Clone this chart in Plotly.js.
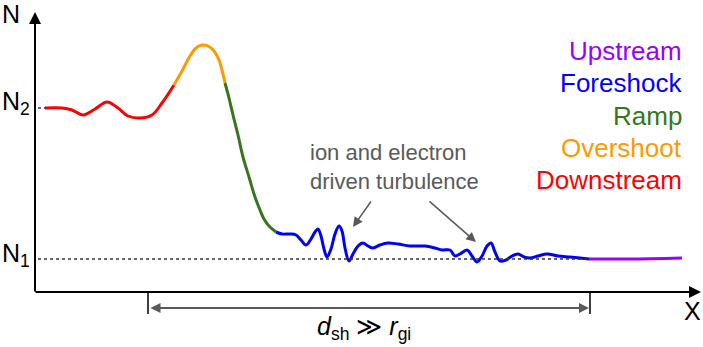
<!DOCTYPE html>
<html>
<head>
<meta charset="utf-8">
<script src="https://cdn.plot.ly/plotly-3.0.1.min.js"></script>
<style>
  html, body { margin: 0; padding: 0; background: #fff; }
  #chart { width: 703px; height: 347px; }
</style>
</head>
<body>
<div id="chart"></div>
<script>
// shock profile, position along x and density N
const downX = [45, 62, 72, 83, 95, 107, 118, 128, 140, 152, 162, 174];
const downN = [239, 239, 237, 232, 238, 245, 239, 231, 229, 232, 244, 262];

const overX = [174, 182, 190, 196, 202, 208, 214, 219, 222, 225];
const overN = [262, 276, 291, 299, 302, 301, 296, 287, 277, 264];

const rampX = [225, 229, 233, 238, 243, 249, 255, 260, 264, 269, 276];
const rampN = [264, 249, 232, 212, 190, 170, 150, 137, 128, 121, 115];

const foreX = [276, 282, 290, 296, 301, 306, 311, 315, 318, 321, 324, 327, 331, 335, 339, 342, 345, 349,
               353, 358, 363, 368, 373, 380, 388, 398, 410, 425, 435, 442, 450, 455, 460, 467, 472, 477,
               482, 487, 491, 495, 500, 506, 512, 518, 524, 530, 538, 547, 558, 570, 580, 589];
const foreN = [115, 113, 113, 112, 107, 102, 108, 115, 118, 111, 98, 90, 98, 113, 121, 116, 99, 86,
               93, 101, 104, 101, 99, 102, 104, 103, 101, 101, 99, 97, 97, 91, 93, 97, 91, 85,
               91, 101, 104, 95, 86, 87, 91, 93, 90, 89, 91, 93, 91, 90, 89, 88];

const upX = [589, 630, 682];
const upN = [88, 88, 89];

const N1 = 88;
const N2 = 239;
const xAxisN = 55;
const dshStart = 148;
const dshEnd = 590;

const regionNames = ['Upstream', 'Foreshock', 'Ramp', 'Overshoot', 'Downstream'];
const regionColors = ['#9900ff', '#0000ff', '#38761d', '#ff9900', '#ff0000'];

const FONT = 'Liberation Sans, Arial, sans-serif';

const segs = [
  [downX, downN, regionColors[4]],
  [overX, overN, regionColors[3]],
  [rampX, rampN, regionColors[2]],
  [foreX, foreN, regionColors[1]],
  [upX, upN, regionColors[0]]
];

const traces = segs.map(s => ({
  x: s[0],
  y: s[1],
  mode: 'lines',
  type: 'scatter',
  line: { color: s[2], width: 3, shape: 'spline', smoothing: 1 },
  hoverinfo: 'skip',
  showlegend: false
}));

const annotations = [];

// axes with arrow heads
annotations.push({ x: 35, y: 335, ax: 35, ay: xAxisN - 1, xref: 'x', yref: 'y', axref: 'x', ayref: 'y',
  showarrow: true, arrowhead: 2, arrowsize: 1.2, arrowwidth: 2, arrowcolor: '#000', text: '' });
annotations.push({ x: 701, y: xAxisN, ax: 34, ay: xAxisN, xref: 'x', yref: 'y', axref: 'x', ayref: 'y',
  showarrow: true, arrowhead: 2, arrowsize: 1.2, arrowwidth: 2, arrowcolor: '#000', text: '' });

// d_sh double arrow
annotations.push({ x: dshEnd - 1, y: 39, ax: dshStart + 1, ay: 39, xref: 'x', yref: 'y', axref: 'x', ayref: 'y',
  showarrow: true, arrowhead: 2, startarrowhead: 2, arrowside: 'end+start', arrowsize: 1, arrowwidth: 2,
  arrowcolor: '#595959', text: '' });

// turbulence arrows
annotations.push({ x: 353, y: 120, ax: 372, ay: 147, xref: 'x', yref: 'y', axref: 'x', ayref: 'y',
  showarrow: true, arrowhead: 2, arrowsize: 1.3, arrowwidth: 1.5, arrowcolor: '#595959', text: '' });
annotations.push({ x: 476, y: 105, ax: 428, ay: 147, xref: 'x', yref: 'y', axref: 'x', ayref: 'y',
  showarrow: true, arrowhead: 2, arrowsize: 1.3, arrowwidth: 1.5, arrowcolor: '#595959', text: '' });

annotations.push({ x: 308, y: 180, xref: 'x', yref: 'y', xanchor: 'left', yanchor: 'middle', align: 'left',
  showarrow: false, text: 'ion and electron<br>driven turbulence',
  font: { family: FONT, size: 22, color: '#595959' } });

// region labels
regionNames.forEach((name, i) => {
  annotations.push({ x: 684, y: 296 - i * 32.3, xref: 'x', yref: 'y', xanchor: 'right', yanchor: 'middle',
    showarrow: false, text: name, font: { family: FONT, size: 26, color: regionColors[i] } });
});

// axis labels
annotations.push({ x: 0, y: 333, xref: 'x', yref: 'y', xanchor: 'left', yanchor: 'middle', showarrow: false,
  text: 'N', font: { family: FONT, size: 25, color: '#000' } });
annotations.push({ x: 0, y: 244, xref: 'x', yref: 'y', xanchor: 'left', yanchor: 'middle', showarrow: false,
  text: 'N<sub>2</sub>', font: { family: FONT, size: 25, color: '#000' } });
annotations.push({ x: 0, y: 92, xref: 'x', yref: 'y', xanchor: 'left', yanchor: 'middle', showarrow: false,
  text: 'N<sub>1</sub>', font: { family: FONT, size: 25, color: '#000' } });
annotations.push({ x: 703, y: 36, xref: 'x', yref: 'y', xanchor: 'right', yanchor: 'middle', showarrow: false,
  text: 'X', font: { family: FONT, size: 25, color: '#000' } });
annotations.push({ x: 364, y: 19, xref: 'x', yref: 'y', xanchor: 'center', yanchor: 'middle', showarrow: false,
  text: '<i>d</i><sub>sh</sub> ≫ <i>r</i><sub>gi</sub>', font: { family: FONT, size: 25, color: '#000' } });

const shapes = [
  { type: 'line', xref: 'x', yref: 'y', x0: 38, x1: dshEnd, y0: N1, y1: N1,
    line: { color: '#333', width: 1.5, dash: 'dot' } },
  { type: 'line', xref: 'x', yref: 'y', x0: 38, x1: 46, y0: N2, y1: N2,
    line: { color: '#333', width: 1.5, dash: 'dot' } },
  { type: 'line', xref: 'x', yref: 'y', x0: dshStart, x1: dshStart, y0: xAxisN, y1: 33,
    line: { color: '#000', width: 1.5 } },
  { type: 'line', xref: 'x', yref: 'y', x0: dshEnd, x1: dshEnd, y0: xAxisN, y1: 33,
    line: { color: '#000', width: 1.5 } }
];

const layout = {
  width: 703,
  height: 347,
  margin: { l: 0, r: 0, t: 0, b: 0 },
  paper_bgcolor: '#fff',
  plot_bgcolor: '#fff',
  xaxis: { range: [0, 703], visible: false, fixedrange: true },
  yaxis: { range: [0, 347], visible: false, fixedrange: true },
  shapes: shapes,
  annotations: annotations,
  showlegend: false
};

Plotly.newPlot('chart', traces, layout, { displayModeBar: false, staticPlot: true });
</script>
</body>
</html>
